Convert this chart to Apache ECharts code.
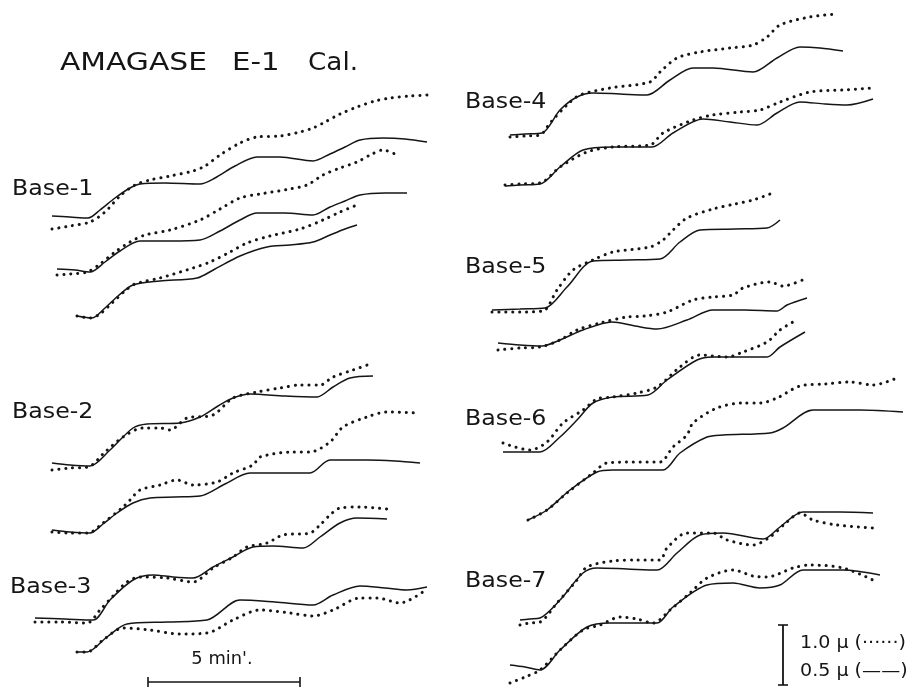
<!DOCTYPE html>
<html><head><meta charset="utf-8">
<script src="https://cdn.jsdelivr.net/npm/echarts@6/dist/echarts.min.js"></script>
<style>html,body{margin:0;padding:0;background:#fff}#c{width:910px;height:688px}</style>
</head><body><div id="c"></div>
<script>
// Each trace: [time-position, displacement-position] (figure units)
const base1aDot=[[52,229],[70,226],[90,222],[105,212],[120,196],[135,185],[150,180],[170,176],[193,171],[205,166],[220,155],[240,143],[257,137],[280,136],[300,132],[313,128],[325,122],[340,114],[357,107],[375,101],[390,98],[410,96],[428,95]];
const base1aSol=[[52,216],[70,217],[88,218],[100,210],[115,198],[130,188],[140,184],[165,183],[200,184],[215,178],[235,166],[257,157],[280,157],[313,161],[330,154],[345,147],[360,140],[383,138],[405,139],[427,142]];
const base1bDot=[[57,275],[70,274],[87,272],[100,264],[115,252],[130,242],[145,235],[170,230],[200,220],[220,209],[240,198],[260,194],[290,189],[307,185],[323,175],[340,168],[357,162],[372,154],[383,150],[397,155]];
const base1bSol=[[57,269],[75,270],[90,272],[105,262],[120,251],[140,241],[170,241],[200,240],[220,231],[240,220],[257,213],[285,213],[313,215],[330,207],[345,201],[360,195],[385,193],[407,193]];
const base1cDot=[[77,316],[90,318],[100,314],[112,303],[125,291],[135,284],[160,278],[193,268],[210,262],[230,252],[247,243],[270,236],[300,229],[323,220],[340,212],[357,205]];
const base1cSol=[[77,316],[92,318],[105,308],[118,296],[133,285],[160,281],[197,278],[215,269],[240,256],[267,247],[290,245],[313,242],[330,235],[345,229],[357,225]];
const base2aDot=[[52,470],[70,468],[88,467],[105,452],[123,437],[143,428],[160,428],[170,430],[187,418],[213,415],[233,398],[257,392],[280,388],[300,385],[320,385],[333,377],[353,370],[373,363]];
const base2aSol=[[52,463],[70,465],[90,466],[110,450],[133,428],[147,424],[180,423],[200,417],[218,406],[233,398],[250,394],[285,396],[317,397],[333,387],[350,378],[373,376]];
const base2bDot=[[52,532],[70,533],[88,533],[103,523],[123,507],[130,500],[140,490],[160,485],[177,480],[193,485],[217,482],[233,473],[253,465],[260,457],[293,452],[310,452],[330,442],[343,427],[367,417],[387,412],[417,413]];
const base2bSol=[[52,530],[70,532],[90,533],[103,524],[117,513],[133,503],[150,498],[175,497],[200,496],[225,484],[250,473],[280,473],[310,473],[330,460],[367,460],[395,461],[420,463]];
const base3aDot=[[35,622],[60,622],[87,623],[100,610],[113,596],[127,582],[140,577],[167,578],[193,582],[213,568],[233,557],[247,547],[267,543],[283,535],[310,533],[320,525],[330,515],[340,508],[360,507],[387,509]];
const base3aSol=[[35,618],[65,619],[93,620],[110,600],[133,580],[153,575],[173,577],[193,578],[213,567],[233,557],[253,547],[273,546],[303,548],[320,537],[340,523],[357,518],[387,519]];
const base3bDot=[[77,652],[87,652],[103,640],[123,628],[150,630],[180,634],[207,633],[233,620],[260,610],[290,613],[313,616],[333,610],[360,598],[377,598],[400,603],[427,589]];
const base3bSol=[[77,652],[87,652],[107,637],[127,624],[167,622],[207,620],[240,600],[275,602],[313,605],[333,595],[360,586],[385,588],[407,590],[427,587]];
const base4aDot=[[510,137],[525,136],[540,135],[550,123],[567,105],[580,95],[610,88],[650,82],[660,72],[677,58],[700,52],[730,48],[753,45],[767,37],[780,25],[810,17],[837,14]];
const base4aSol=[[510,135],[525,134],[542,133],[560,110],[577,97],[593,93],[620,94],[647,95],[670,80],[693,68],[713,68],[753,72],[777,58],[800,47],[820,48],[843,51]];
const base4bDot=[[505,185],[520,184],[540,183],[560,167],[587,152],[613,147],[650,145],[663,133],[693,120],[713,115],[740,112],[760,110],[780,102],[810,92],[843,90],[873,88]];
const base4bSol=[[505,186],[520,185],[540,184],[560,167],[583,150],[613,147],[652,147],[673,133],[703,119],[730,122],[757,125],[777,113],[800,102],[825,104],[847,105],[873,99]];
const base5aDot=[[492,312],[520,312],[543,311],[557,290],[573,270],[593,260],[613,252],[650,247],[663,240],[673,230],[687,218],[713,209],[735,204],[753,200],[770,194]];
const base5aSol=[[492,310],[520,309],[545,308],[567,287],[593,261],[627,260],[660,259],[680,242],[700,230],[735,229],[767,228],[780,220]];
const base5bDot=[[498,350],[520,348],[540,347],[560,340],[577,330],[600,323],[627,317],[645,316],[667,312],[693,300],[713,297],[733,295],[743,288],[770,282],[783,286],[807,278]];
const base5bSol=[[498,343],[520,345],[542,346],[560,340],[583,330],[612,322],[635,326],[657,329],[687,320],[713,310],[745,310],[777,311],[787,305],[807,298]];
const base6aDot=[[503,443],[515,447],[530,450],[547,442],[563,423],[583,410],[597,399],[613,397],[637,393],[657,387],[680,367],[700,355],[727,357],[743,352],[767,342],[780,330],[793,322]];
const base6aSol=[[503,452],[520,452],[540,452],[560,437],[577,420],[593,403],[613,397],[648,395],[667,380],[697,360],[713,357],[740,357],[767,357],[780,347],[805,332]];
const base6bDot=[[528,520],[547,510],[567,493],[593,473],[607,463],[633,462],[660,462],[673,447],[687,435],[693,423],[717,408],[743,403],[760,403],[777,398],[800,386],[825,384],[850,382],[873,385],[897,378]];
const base6bSol=[[528,520],[547,510],[570,490],[597,472],[613,470],[640,470],[663,470],[680,453],[707,437],[723,435],[770,433],[783,428],[813,410],[860,410],[903,412]];
const base7aDot=[[520,625],[530,623],[540,622],[557,603],[577,580],[587,567],[613,561],[637,560],[660,560],[667,548],[687,533],[713,533],[727,540],[753,545],[770,537],[787,522],[800,513],[813,520],[837,525],[873,528]];
const base7aSol=[[520,620],[530,619],[540,618],[560,600],[583,573],[597,568],[627,569],[657,570],[677,553],[700,535],[723,533],[763,539],[780,527],[803,512],[840,512],[873,513]];
const base7bDot=[[510,683],[525,677],[540,670],[560,650],[583,630],[600,625],[620,617],[637,619],[653,623],[670,610],[690,593],[707,578],[733,570],[753,576],[767,577],[793,568],[810,565],[843,568],[873,580]];
const base7bSol=[[510,665],[525,667],[540,670],[560,650],[587,627],[610,623],[635,623],[657,623],[673,607],[707,585],[733,583],[760,588],[780,585],[803,570],[843,570],[880,575]];

const baseLabels=['Base-1','Base-2','Base-3','Base-4','Base-5','Base-6','Base-7'];
const titleWords=['AMAGASE','E-1','Cal.'];
const legendLabels=['1.0 μ (······)','0.5 μ (——)'];
const timeLabel="5 min'.";

const traces=[
 [base1aDot,'dot'],[base1aSol,'sol'],[base1bDot,'dot'],[base1bSol,'sol'],[base1cDot,'dot'],[base1cSol,'sol'],
 [base2aDot,'dot'],[base2aSol,'sol'],[base2bDot,'dot'],[base2bSol,'sol'],
 [base3aDot,'dot'],[base3aSol,'sol'],[base3bDot,'dot'],[base3bSol,'sol'],
 [base4aDot,'dot'],[base4aSol,'sol'],[base4bDot,'dot'],[base4bSol,'sol'],
 [base5aDot,'dot'],[base5aSol,'sol'],[base5bDot,'dot'],[base5bSol,'sol'],
 [base6aDot,'dot'],[base6aSol,'sol'],[base6bDot,'dot'],[base6bSol,'sol'],
 [base7aDot,'dot'],[base7aSol,'sol'],[base7bDot,'dot'],[base7bSol,'sol']
];

const INK='#151515';
const series=traces.map(([d,k])=>({
  type:'line',data:d,showSymbol:false,smooth:0.3,silent:true,
  lineStyle:k==='dot'
    ?{color:INK,width:3,type:[0.1,6.8],cap:'round'}
    :{color:INK,width:1.5}
}));

const FONT='"DejaVu Sans", sans-serif';
function txt(s,x,y,size,sx,align){
  return {type:'text',x:x,y:y,scaleX:sx,silent:true,
    style:{text:s,fill:INK,font:'normal '+size+'px '+FONT,textAlign:align||'left',textVerticalAlign:'middle'}};
}
const labelPos=[[12,190],[12,413],[10,588],[465,103],[465,268],[465,420],[465,582]];
const graphic=[];
titleWords.forEach((w,i)=>{const p=[[60,63,1.19],[232,63,1.17],[308,63,1.05]][i];graphic.push(txt(w,p[0],p[1],25,p[2]));});
baseLabels.forEach((b,i)=>graphic.push(txt(b,labelPos[i][0],labelPos[i][1],21,1.13)));
graphic.push(txt(timeLabel,222,660,17,1.05,'center'));
graphic.push(txt(legendLabels[0],800,643,18,1.06));
graphic.push(txt(legendLabels[1],800,671,18,1.06));
// scale bars
const L=(x1,y1,x2,y2,w)=>({type:'line',silent:true,shape:{x1,y1,x2,y2},style:{stroke:INK,lineWidth:w||1.6}});
graphic.push(L(148,682,300,682),L(148,677,148,687),L(300,677,300,687));
graphic.push(L(783,625,783,685,1.8),L(778,625,788,625),L(778,685,788,685));

const chart=echarts.init(document.getElementById('c'));
chart.setOption({
  animation:false,backgroundColor:'#fff',
  grid:{left:0,right:0,top:0,bottom:0},
  xAxis:{type:'value',min:0,max:910,show:false},
  yAxis:{type:'value',min:0,max:688,inverse:true,show:false},
  series:series,graphic:graphic
});
</script></body></html>
